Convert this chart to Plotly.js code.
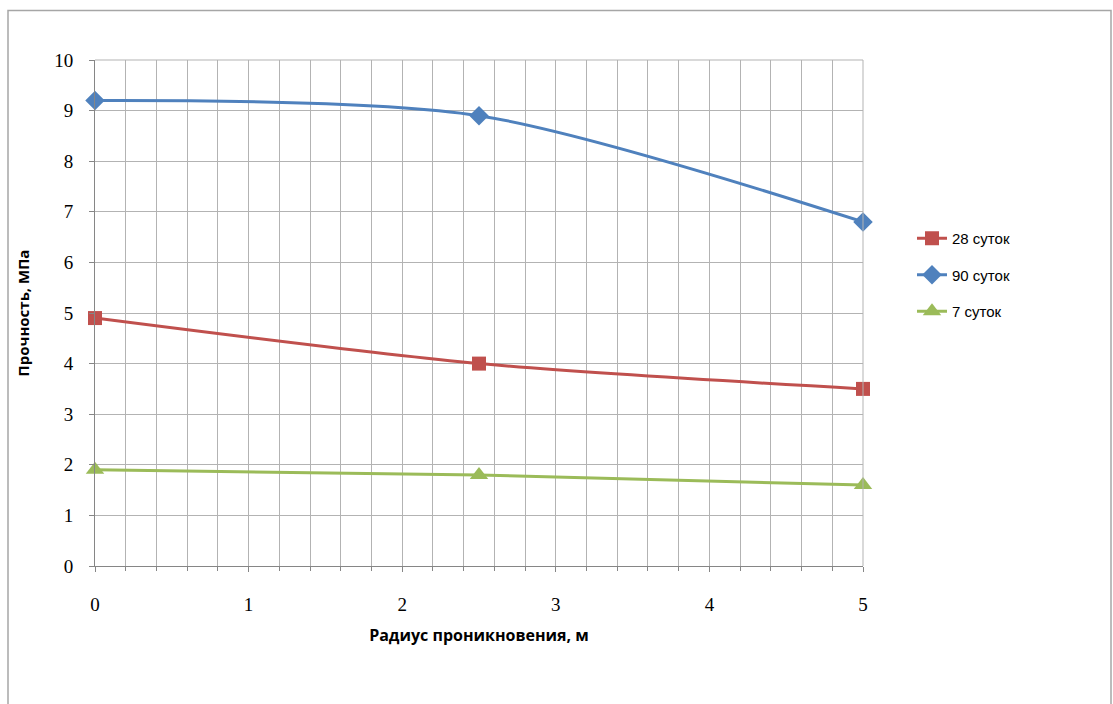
<!DOCTYPE html>
<html>
<head>
<meta charset="utf-8">
<script src="https://cdn.plot.ly/plotly-3.0.1.min.js"></script>
<style>html,body{margin:0;padding:0;background:#fff;}#chart{width:1113px;height:704px;}</style>
</head>
<body>
<div id="chart"></div>
<script>
const radius = [0, 2.5, 5];
const series28 = [4.9, 4.0, 3.5];
const series90 = [9.2, 8.9, 6.8];
const series7 = [1.9, 1.8, 1.6];
const names = ['28 суток', '90 суток', '7 суток'];
const xTitle = 'Радиус проникновения, м';
const yTitle = 'Прочность, МПа';

const lw = 3;
const traces = [
  {x: radius, y: series28, name: names[0], mode: 'lines+markers', legendgroup: 'a', cliponaxis: false,
   line: {color: '#C0504D', width: lw, shape: 'spline', smoothing: 0.8},
   marker: {symbol: 'square', size: 14, color: '#C0504D'}},
  {x: radius, y: series90, name: names[1], mode: 'lines+markers', legendgroup: 'b', cliponaxis: false,
   line: {color: '#4F81BD', width: lw, shape: 'spline', smoothing: 0.8},
   marker: {symbol: 'diamond', size: 15, color: '#4F81BD'}},
  {x: radius, y: series7, name: names[2], mode: 'lines+markers', legendgroup: 'c', cliponaxis: false,
   line: {color: '#9BBB59', width: lw, shape: 'spline', smoothing: 0.8},
   marker: {symbol: 'triangle-up', size: 16, color: '#9BBB59'}}
];

const W = 768, H = 506;
const px = v => (v - 95) / W;
const py = v => (566 - v) / H;
const serif = '"Liberation Serif", "Times New Roman", serif';
const sans = '"Open Sans", "Liberation Sans", sans-serif';

const layout = {
  width: 1113, height: 704,
  margin: {l: 95, r: 250, t: 60, b: 138},
  paper_bgcolor: '#fff', plot_bgcolor: '#fff',
  showlegend: true,
  legend: {x: px(912), y: py(222), xanchor: 'left', yanchor: 'top',
    font: {family: '"Liberation Sans", Arial, sans-serif', size: 15, color: '#000'},
    tracegroupgap: 14, bgcolor: 'rgba(0,0,0,0)'},
  xaxis: {
    range: [0, 5], dtick: 1, tick0: 0, showgrid: true, gridcolor: '#b3b3b3', gridwidth: 1,
    zeroline: false, showline: true, linecolor: '#868686', linewidth: 1,
    ticks: 'outside', ticklen: 5, tickcolor: '#868686', ticklabelstandoff: 16,
    minor: {dtick: 0.2, tick0: 0, showgrid: true, gridcolor: '#b3b3b3', gridwidth: 1, ticks: 'outside', ticklen: 4, tickcolor: '#868686'},
    tickfont: {family: serif, size: 19, color: '#000'},
    title: {text: xTitle, standoff: 16, font: {family: sans, size: 16, color: '#000', weight: 'bold'}}
  },
  yaxis: {
    range: [0, 10], dtick: 1, tick0: 0, showgrid: true, gridcolor: '#b3b3b3', gridwidth: 1,
    zeroline: false, showline: true, linecolor: '#868686', linewidth: 1,
    ticks: 'outside', ticklen: 5, tickcolor: '#868686', ticklabelstandoff: 12,
    tickfont: {family: serif, size: 19, color: '#000'},
    title: {text: yTitle, standoff: 20, font: {family: sans, size: 15, color: '#000', weight: 'bold'}}
  },
  shapes: [
    {type: 'rect', xref: 'paper', yref: 'paper', x0: px(8), x1: px(1111), y0: py(720), y1: py(10.5),
     line: {color: '#a6a6a6', width: 1.5}, fillcolor: 'rgba(0,0,0,0)', layer: 'below'},
    {type: 'line', xref: 'paper', yref: 'paper', x0: 1, x1: 1, y0: 0, y1: 1, line: {color: '#b3b3b3', width: 1}},
    {type: 'line', xref: 'paper', yref: 'paper', x0: 0, x1: 1, y0: 1, y1: 1, line: {color: '#b3b3b3', width: 1}}
  ]
};

Plotly.newPlot('chart', traces, layout, {displayModeBar: false, staticPlot: true});
</script>
</body>
</html>
